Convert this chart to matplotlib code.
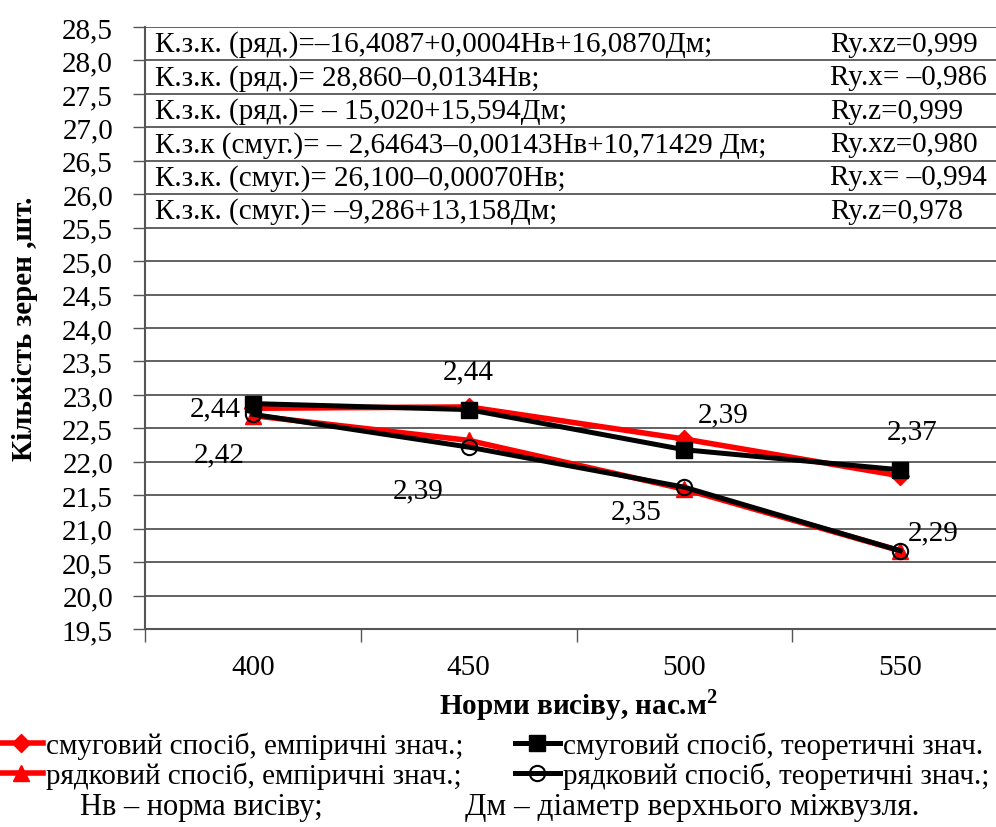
import matplotlib
matplotlib.use("Agg")
import numpy as np
from matplotlib import pyplot as plt
from matplotlib import font_manager as fm

# норми висіву і значення кількості зерен
norms = ["400", "450", "500", "550"]
smug_emp = [22.80, 22.82, 22.34, 21.79]
smug_teor = [22.87, 22.78, 22.18, 21.88]
ryad_emp = [22.69, 22.32, 21.59, 20.67]
ryad_teor = [22.71, 22.22, 21.62, 20.67]

# підписи діаметра міжвузля
smug_lbl = ["2,44", "2,44", "2,39", "2,37"]
ryad_lbl = ["2,42", "2,39", "2,35", "2,29"]

eqs = ["К.з.к. (ряд.)=\u201316,4087+0,0004Нв+16,0870Дм;",
       "К.з.к. (ряд.)= 28,860\u20130,0134Нв;",
       "К.з.к. (ряд.)= \u2013 15,020+15,594Дм;",
       "К.з.к (смуг.)= \u2013 2,64643\u20130,00143Нв+10,71429 Дм;",
       "К.з.к. (смуг.)= 26,100\u20130,00070Нв;",
       "К.з.к. (смуг.)= \u20139,286+13,158Дм;"]
corr = ["Ry.xz=0,999", "Ry.x= \u20130,986", "Ry.z=0,999",
        "Ry.xz=0,980", "Ry.x= \u20130,994", "Ry.z=0,978"]

names = {f.name for f in fm.fontManager.ttflist}
serif = [n for n in ["Liberation Serif", "Tinos", "Noto Serif", "DejaVu Serif"] if n in names]
plt.rcParams['font.family'] = serif + ['DejaVu Sans']
plt.rcParams['mathtext.fontset'] = 'custom'
plt.rcParams['mathtext.rm'] = serif[0] if serif else 'DejaVu Sans'
plt.rcParams['mathtext.bf'] = (serif[0] if serif else 'DejaVu Sans') + ':bold'

fig = plt.figure(figsize=(9.96, 8.28), dpi=100)
W, H = 996, 828
ax = fig.add_axes([145/W, (H-630)/H, (1008-145)/W, (630-28)/H])

x = np.arange(len(norms))
l1, = ax.plot(x, smug_emp, color='#ff0000', lw=4, marker='D', ms=9, zorder=3)
l3, = ax.plot(x, ryad_emp, color='#ff0000', lw=4, marker='^', ms=11, zorder=3)
l2, = ax.plot(x, smug_teor, color='black', lw=3.6, marker='s', ms=11, zorder=4)
l4, = ax.plot(x, ryad_teor, color='black', lw=3.6, marker='o', ms=11,
              mfc='none', mec='black', mew=1.5, zorder=4)

# зміщення підписів у пікселях
up_off = [(-38, -5), (0, 38), (39, 35), (12, 38)]
dn_off = [(-34, -40), (-50, -43), (-48, -24), (33, 18)]
for i in range(len(norms)):
    ax.annotate(smug_lbl[i], (x[i], smug_teor[i]), xytext=up_off[i],
                textcoords='offset pixels', ha='center', va='center', fontsize=21)
    ax.annotate(ryad_lbl[i], (x[i], ryad_teor[i]), xytext=dn_off[i],
                textcoords='offset pixels', ha='center', va='center', fontsize=21)

ax.set_xlim(-0.5, 3.5)
ax.set_ylim(19.5, 28.5)
yt = np.arange(19.5, 28.51, 0.5)
ax.set_yticks(yt)
ax.set_yticklabels([f"{v:.1f}".replace('.', ',') for v in yt], fontsize=21)
ax.tick_params(axis='y', direction='out', length=9, width=1, color='#555555', pad=14)
ax.set_xticks(np.arange(-0.5, 3.6, 1.0))
ax.set_xticklabels([])
ax.set_xticks(x, minor=True)
ax.set_xticklabels(norms, minor=True, fontsize=21)
ax.tick_params(axis='x', which='major', direction='out', length=9, width=1, color='#555555')
ax.tick_params(axis='x', which='minor', length=0, pad=18)
ax.grid(axis='y', color='#555555', lw=1.3)
ax.set_axisbelow(True)
for s in ['top', 'right']:
    ax.spines[s].set_visible(False)
ax.spines['left'].set_color('#555555')
ax.spines['left'].set_linewidth(1.5)
ax.spines['bottom'].set_color('#555555')
ax.spines['bottom'].set_linewidth(1.5)

ax.set_xlabel("Норми висіву, нас.м$^\\mathbf{2}$", fontsize=21, fontweight='bold')
ax.set_ylabel("Кількість зерен ,шт.", fontsize=21, fontweight='bold')
ax.xaxis.set_label_coords((578-145)/(1008-145), -0.095)
ax.yaxis.set_label_coords((38-145)/(1008-145), 0.5)

# рівняння регресії
for i, (e, r) in enumerate(zip(eqs, corr)):
    yv = 28.5 - 0.5*i - 0.25
    ax.text((155-145)/(1008-145), yv, e, transform=ax.get_yaxis_transform(),
            fontsize=21, va='center', ha='left')
    ax.text((830-145)/(1008-145), yv, r, transform=ax.get_yaxis_transform(),
            fontsize=21, va='center', ha='left')

fig.legend([l1, l3, l2, l4],
           ["смуговий спосіб, емпіричні знач.;", "рядковий спосіб, емпіричні знач.;",
            "смуговий спосіб, теоретичні знач.", "рядковий спосіб, теоретичні знач.;"],
           ncol=2, loc='upper left', bbox_to_anchor=(-0.002, (H-733)/H), frameon=False,
           fontsize=21, handlelength=1.55, handletextpad=0.1, columnspacing=1.75,
           borderpad=0, borderaxespad=0, labelspacing=0.06)
fig.text(80/W, (H-808)/H, "Нв \u2013 норма висіву;", fontsize=22, va='center')
fig.text(465/W, (H-808)/H, "Дм \u2013 діаметр верхнього міжвузля.", fontsize=22.5, va='center')

fig.savefig("out.png", dpi=100)
